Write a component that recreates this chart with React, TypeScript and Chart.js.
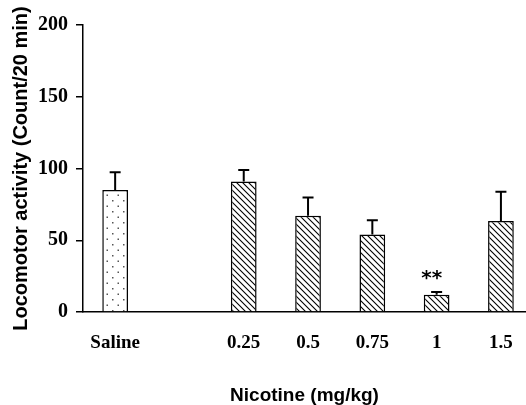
import { useEffect, useRef } from 'react';
import { Chart, registerables } from 'chart.js';

Chart.register(...registerables);

const groupLabels = ['Saline', '0.25', '0.5', '0.75', '1', '1.5'];
const groupPositions = [0, 2, 3, 4, 5, 6];
const meanValues = [85, 91, 67, 54, 12, 63.4];
const semValues = [12.3, 8, 12.8, 9.9, 2, 20.4];
const significance = ['', '', '', '', '**', ''];
const yTicks = [0, 50, 100, 150, 200];
const xTitle = 'Nicotine (mg/kg)';
const yTitle = 'Locomotor activity (Count/20 min)';

function makeHatch(): CanvasPattern | string {
  const c = document.createElement('canvas');
  c.width = 6;
  c.height = 6;
  const g = c.getContext('2d');
  if (!g) return '#888';
  g.fillStyle = '#fff';
  g.fillRect(0, 0, 6, 6);
  g.strokeStyle = '#000';
  g.lineWidth = 1.1;
  g.beginPath();
  g.moveTo(-1, -1);
  g.lineTo(7, 7);
  g.moveTo(-1, 5);
  g.lineTo(1, 7);
  g.moveTo(5, -1);
  g.lineTo(7, 1);
  g.stroke();
  return g.createPattern(c, 'repeat') || '#888';
}

function makeDots(): CanvasPattern | string {
  const c = document.createElement('canvas');
  c.width = 11;
  c.height = 11;
  const g = c.getContext('2d');
  if (!g) return '#fff';
  g.fillStyle = '#fff';
  g.fillRect(0, 0, 11, 11);
  g.fillStyle = '#555';
  g.fillRect(2, 2, 1.5, 1.5);
  g.fillRect(7.5, 7.5, 1.5, 1.5);
  return g.createPattern(c, 'repeat') || '#fff';
}

const errorBarPlugin = {
  id: 'errorBars',
  afterDatasetsDraw(chart: any) {
    const ctx = chart.ctx;
    const meta = chart.getDatasetMeta(0);
    const y = chart.scales.y;
    ctx.save();
    ctx.strokeStyle = '#000';
    ctx.fillStyle = '#000';
    ctx.lineWidth = 2;
    meta.data.forEach((bar: any, i: number) => {
      const base = y.getPixelForValue(meanValues[i]);
      const top = y.getPixelForValue(meanValues[i] + semValues[i]);
      ctx.beginPath();
      ctx.moveTo(bar.x, base);
      ctx.lineTo(bar.x, top);
      ctx.moveTo(bar.x - 5.5, top);
      ctx.lineTo(bar.x + 5.5, top);
      ctx.stroke();
      if (significance[i]) {
        ctx.font = 'bold 20px "DejaVu Sans"';
        ctx.textAlign = 'center';
        ctx.textBaseline = 'alphabetic';
        ctx.fillText(significance[i], bar.x - 5, top - 8);
      }
    });
    ctx.restore();
  },
};

export default function App() {
  const ref = useRef<HTMLCanvasElement | null>(null);

  useEffect(() => {
    if (!ref.current) return;
    const hatch = makeHatch();
    const dots = makeDots();
    const chart = new Chart(ref.current, {
      type: 'bar',
      data: {
        datasets: [
          {
            data: groupPositions.map((x, i) => ({ x, y: meanValues[i] })),
            backgroundColor: groupPositions.map((_, i) => (i === 0 ? dots : hatch)) as any,
            borderColor: '#000',
            borderWidth: 1.5,
            barPercentage: 1,
            categoryPercentage: 0.4,
          },
        ],
      },
      options: {
        responsive: false,
        animation: false,
        layout: { padding: { top: 25, right: 0, bottom: 0, left: 0 } },
        plugins: { legend: { display: false }, tooltip: { enabled: false } },
        scales: {
          x: {
            type: 'linear',
            min: -0.5,
            max: 6.39,
            offset: false,
            grid: { display: false },
            border: { display: true, color: '#000', width: 1.5 },
            afterBuildTicks: (s: any) => {
              s.ticks = groupPositions.map((v) => ({ value: v }));
            },
            afterFit: (s: any) => {
              s.height = 93;
              s.paddingLeft = 0;
              s.paddingRight = 0;
            },
            ticks: {
              autoSkip: false,
              maxRotation: 0,
              minRotation: 0,
              padding: 12,
              color: '#000',
              font: { family: '"Liberation Serif"', size: 19, weight: 'bold' },
              callback: (v: any) => {
                const idx = groupPositions.indexOf(Number(v));
                return idx >= 0 ? groupLabels[idx] : '';
              },
            },
            title: {
              display: true,
              text: xTitle,
              color: '#000',
              font: { family: '"Liberation Sans"', size: 19, weight: 'bold', lineHeight: 1 },
              padding: 0,
            },
          },
          y: {
            min: 0,
            max: 200,
            afterBuildTicks: (s: any) => {
              s.ticks = yTicks.map((v) => ({ value: v }));
            },
            afterFit: (s: any) => {
              s.width = 83;
            },
            grid: {
              display: true,
              drawOnChartArea: false,
              drawTicks: true,
              tickLength: 7,
              color: '#000',
              lineWidth: 1.5,
            },
            border: { display: true, color: '#000', width: 1.5 },
            ticks: {
              padding: 8,
              color: '#000',
              font: { family: '"Liberation Serif"', size: 20, weight: 'bold' },
            },
            title: {
              display: true,
              text: yTitle,
              color: '#000',
              font: { family: '"Liberation Sans"', size: 20, weight: 'bold', lineHeight: 1 },
              padding: { top: 11, bottom: 0 },
            },
          },
        },
      } as any,
      plugins: [errorBarPlugin],
    });
    return () => chart.destroy();
  }, []);

  return (
    <div style={{ position: 'absolute', left: 0, top: 0, width: 526, height: 405 }}>
      <canvas ref={ref} width={526} height={405} />
    </div>
  );
}
